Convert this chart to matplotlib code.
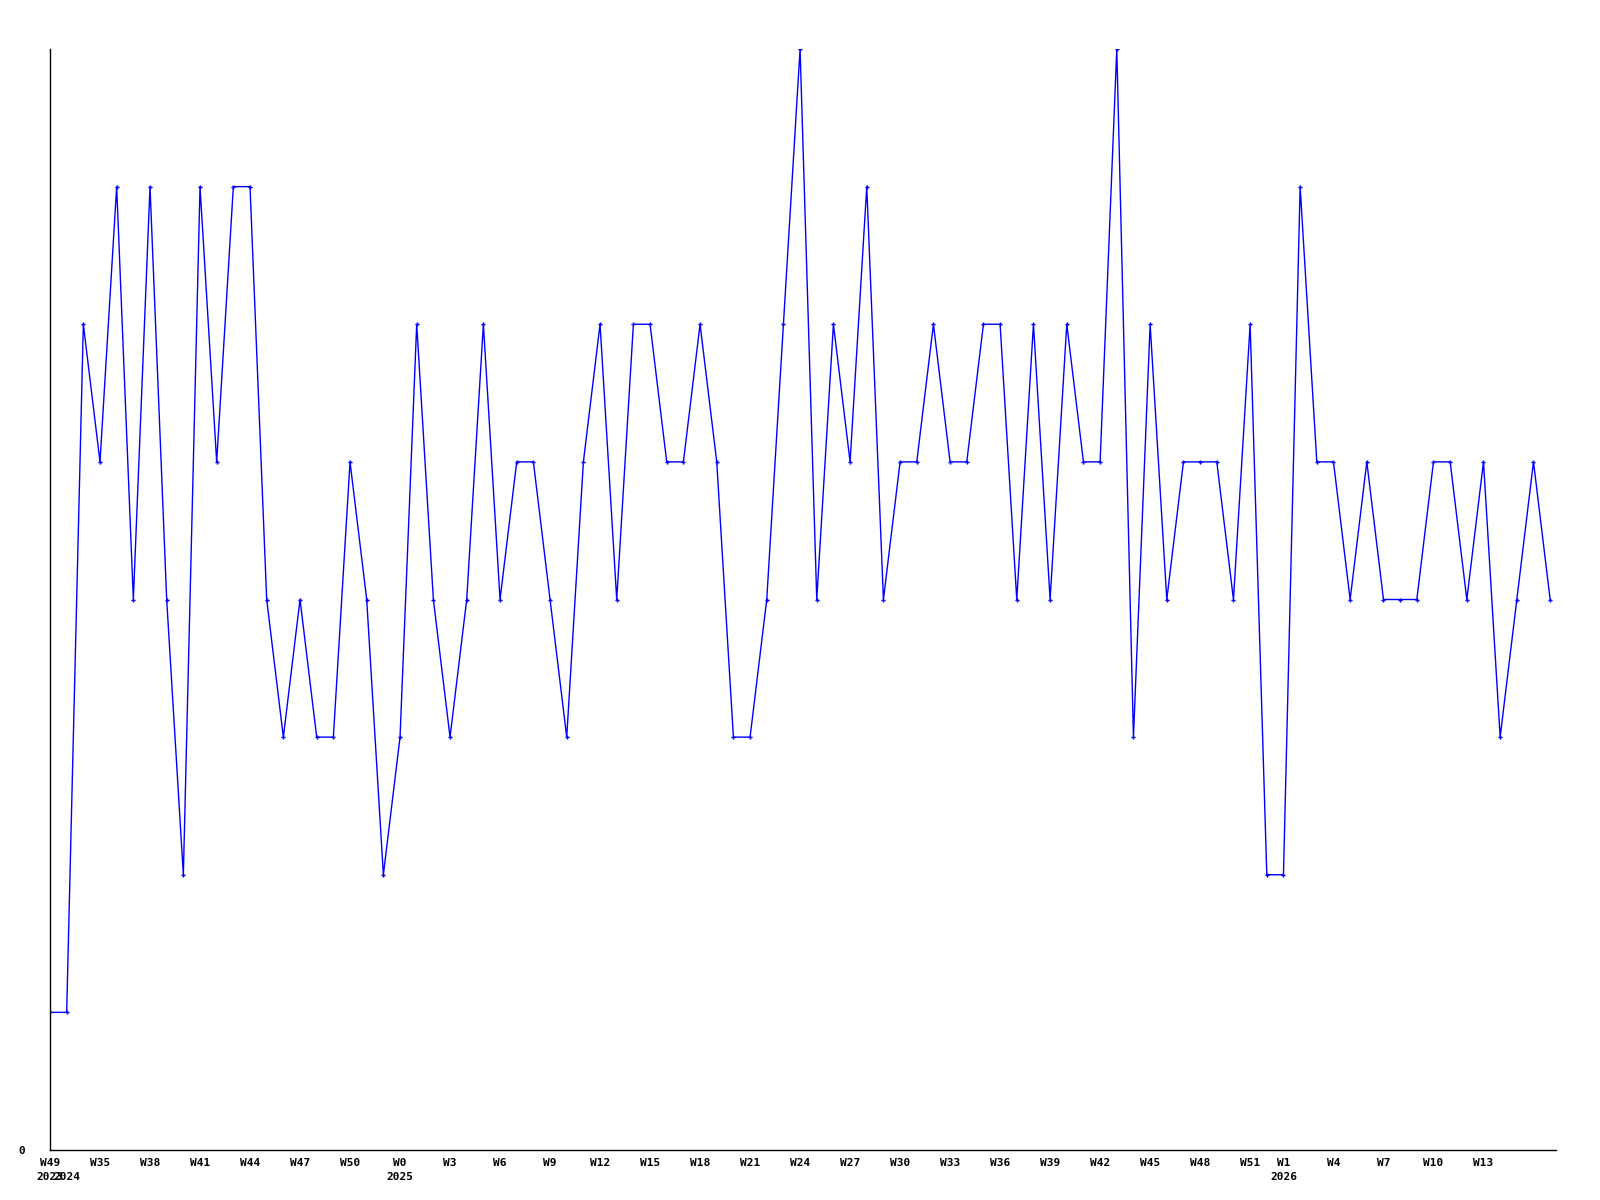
import matplotlib
matplotlib.use("Agg")
import matplotlib.pyplot as plt

# weekly counts, one per category position
values = [1, 1, 6, 5, 7, 4, 7, 4, 2, 7,
          5, 7, 7, 4, 3, 4, 3, 3, 5, 4,
          2, 3, 6, 4, 3, 4, 6, 4, 5, 5,
          4, 3, 5, 6, 4, 6, 6, 5, 5, 6,
          5, 3, 3, 4, 6, 8, 4, 6, 5, 7,
          4, 5, 5, 6, 5, 5, 6, 6, 4, 6,
          4, 6, 5, 5, 8, 3, 6, 4, 5, 5,
          5, 4, 6, 2, 2, 7, 5, 5, 4, 5,
          4, 4, 4, 5, 5, 4, 5, 3, 4, 5,
          4]

tick_pos = [0, 1, 3, 6, 9, 12, 15, 18, 21, 24, 27, 30, 33, 36, 39, 42,
            45, 48, 51, 54, 57, 60, 63, 66, 69, 72, 74, 77, 80, 83, 86]
tick_labels = ["W49\n2023", "\n2024", "W35", "W38", "W41", "W44", "W47", "W50",
               "W0\n2025", "W3", "W6", "W9", "W12", "W15", "W18", "W21",
               "W24", "W27", "W30", "W33", "W36", "W39", "W42", "W45", "W48",
               "W51", "W1\n2026", "W4", "W7", "W10", "W13"]

fig = plt.figure(figsize=(16, 12), dpi=100)
ax = fig.add_axes([50 / 1600, 50 / 1200, 1506 / 1600, 1101 / 1200])

x = list(range(len(values)))
ax.plot(x, values, color="#0000ff", linewidth=1, marker="P", markersize=3,
        markeredgewidth=0)

ax.set_xlim(0, 90.35)
ax.set_ylim(0, 8)

for s in ["top", "right"]:
    ax.spines[s].set_visible(False)
for s in ["left", "bottom"]:
    ax.spines[s].set_linewidth(1)
    ax.spines[s].set_color("black")

ax.set_xticks(tick_pos)
ax.set_xticklabels(tick_labels, fontfamily="DejaVu Sans Mono", fontweight="bold",
                   fontsize=8, linespacing=1.5, va="top")
ax.set_yticks([0])
ax.set_yticklabels(["0"], fontfamily="DejaVu Sans Mono", fontweight="bold", fontsize=8)
ax.tick_params(axis="x", length=0, pad=6)
ax.tick_params(axis="y", length=0, pad=18)

fig.savefig("out.png", dpi=100)
